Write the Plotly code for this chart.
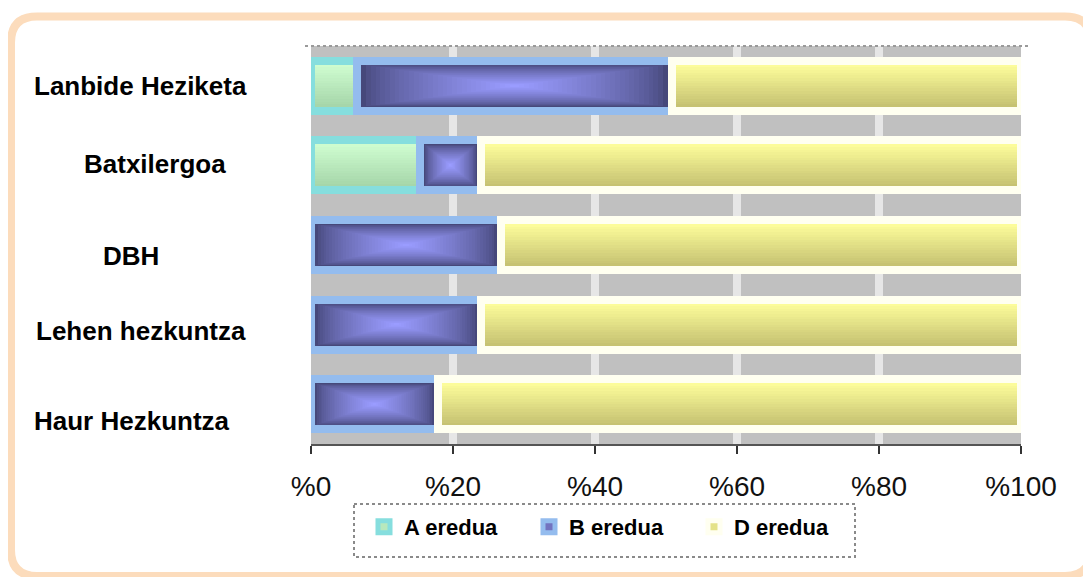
import plotly.graph_objects as go

# ---------------- data ----------------
categories = ["Lanbide Heziketa", "Batxilergoa", "DBH", "Lehen hezkuntza", "Haur Hezkuntza"]
series_names = ["A eredua", "B eredua", "D eredua"]
a_values = [6.5, 15.4, 0, 0, 0]
b_values = [44.3, 8.5, 26.8, 24.0, 17.9]
d_values = [49.2, 76.1, 73.2, 76.0, 82.1]
tick_values = [0, 20, 40, 60, 80, 100]
tick_labels = ["%0", "%20", "%40", "%60", "%80", "%100"]

# ---------------- layout geometry (page pixels) ----------------
OFF = 8                      # default body margin of the html page
W_PX, H_PX = 1091 - OFF, 577 - OFF
L, R, T, B = 311, 1021, 46, 444      # plot area in page coords
PW, PH = R - L, B - T
px_x = PW / 100.0
px_cat = PH / len(categories)
BORDER = 8
bar_w = 50 / px_cat
inner_w = (50 - BORDER) / px_cat
dx = (BORDER / 2) / px_x

def hx(c):
    c = c.lstrip("#")
    return tuple(int(c[i:i + 2], 16) for i in (0, 2, 4))

def mix(c1, c2, t):
    a, b = hx(c1), hx(c2)
    return "rgb(%d,%d,%d)" % tuple(round(a[i] + (b[i] - a[i]) * t) for i in range(3))

values = [a_values, b_values, d_values]
bases = []
acc = [0.0] * len(categories)
for vals in values:
    bases.append(list(acc))
    acc = [acc[i] + vals[i] for i in range(len(vals))]

main_fill = ["#b8e8bc", "#7373c0", "#e4e288"]
border_col = ["#86dede", "#94bcee", "#fffff0"]

fig = go.Figure()
for s in range(3):
    fig.add_trace(go.Bar(
        y=categories, x=values[s], base=bases[s], orientation="h",
        name="<b>%s</b>" % series_names[s], width=bar_w,
        marker=dict(color=main_fill[s], line=dict(color=border_col[s], width=BORDER)),
        hoverinfo="name+x",
    ))

# vertical gradient stripes for A and D
grad = {0: ("#cefccf", "#a6d6aa"), 2: ("#fcfc9a", "#c6c272")}
N = 16
for s, (ctop, cbot) in grad.items():
    lens = [max(v - 2 * dx, 0) for v in values[s]]
    bb = [b + dx for b in bases[s]]
    h = inner_w / N
    for k in range(N):
        fig.add_trace(go.Bar(
            y=categories, x=lens, base=bb, orientation="h",
            offset=-inner_w / 2 + k * h, width=h * (1.6 if k < N - 1 else 1.0),
            marker=dict(color=mix(ctop, cbot, k / (N - 1)), line=dict(width=0)),
            showlegend=False, hoverinfo="skip",
        ))

# pillow gradient for B
edge, center = "#46487a", "#9a9cff"
NB = 32
lensB = [max(v - 2 * dx, 0) for v in b_values]
for k in range(NB):
    t = k / NB
    fig.add_trace(go.Bar(
        y=categories,
        x=[l * (1 - t) for l in lensB],
        base=[bases[1][i] + dx + lensB[i] * t / 2 for i in range(len(categories))],
        orientation="h",
        offset=-inner_w / 2 * (1 - t), width=inner_w * (1 - t),
        marker=dict(color=mix(edge, center, (k / (NB - 1)) ** 0.7), line=dict(width=0)),
        showlegend=False, hoverinfo="skip",
    ))

def px2p(x, y):
    return (x - L) / PW, (B - y) / PH

# category labels (bold)
label_pos = [(140.5, 86), (154.5, 164), (130.5, 256), (141, 331), (132, 421)]
label_font = dict(family="Liberation Sans, Arial, sans-serif", size=26, color="#000000")
annotations = []
for cat, (cx, cy) in zip(categories, label_pos):
    xp, yp = px2p(cx, cy)
    annotations.append(dict(text="<b>%s</b>" % cat, x=xp, y=yp, xref="paper", yref="paper",
                            xanchor="center", yanchor="middle", showarrow=False, font=label_font))

# outer rounded frame
def rrect(x0, y0, x1, y1, r):
    X = lambda v: (v - L) / PW
    Y = lambda v: (B - v) / PH
    return ("M %f,%f L %f,%f Q %f,%f %f,%f L %f,%f Q %f,%f %f,%f L %f,%f Q %f,%f %f,%f L %f,%f Q %f,%f %f,%f Z" % (
        X(x0 + r), Y(y0), X(x1 - r), Y(y0), X(x1), Y(y0), X(x1), Y(y0 + r),
        X(x1), Y(y1 - r), X(x1), Y(y1), X(x1 - r), Y(y1),
        X(x0 + r), Y(y1), X(x0), Y(y1), X(x0), Y(y1 - r),
        X(x0), Y(y0 + r), X(x0), Y(y0), X(x0 + r), Y(y0)))

shapes = [
    dict(type="path", xref="paper", yref="paper", path=rrect(11, 16.5, 1091, 576, 26),
         line=dict(color="#fcdcbc", width=8), fillcolor="rgba(0,0,0,0)", layer="above"),
    dict(type="line", xref="paper", yref="paper", x0=px2p(305, 0)[0], x1=px2p(1028, 0)[0],
         y0=px2p(0, 46)[1], y1=px2p(0, 46)[1], line=dict(color="#9a9a9a", width=2, dash="dot")),
    dict(type="rect", xref="paper", yref="paper",
         x0=px2p(354, 0)[0], x1=px2p(855, 0)[0], y0=px2p(0, 504)[1], y1=px2p(0, 557)[1],
         line=dict(color="#8a8a8a", width=2, dash="dot"), fillcolor="white", layer="below"),
]

fig.update_layout(
    width=W_PX, height=H_PX,
    margin=dict(l=L - OFF, r=W_PX - (R - OFF), t=T - OFF, b=H_PX - (B - OFF), pad=0, autoexpand=False),
    paper_bgcolor="white", plot_bgcolor="#c0c0c0",
    barmode="overlay", bargap=0,
    showlegend=True,
    legend=dict(orientation="h", xref="container", yref="container",
                x=(364 - OFF) / W_PX, y=1 - (527 - OFF) / H_PX, xanchor="left", yanchor="middle",
                bgcolor="rgba(0,0,0,0)", borderwidth=0,
                entrywidth=120, entrywidthmode="pixels",
                font=dict(family="Liberation Sans, Arial, sans-serif", size=22, color="#000000"),
                traceorder="normal"),
    xaxis=dict(range=[0, 100], tickvals=tick_values, ticktext=tick_labels,
               showgrid=True, gridcolor="#e6e6e6", gridwidth=8, zeroline=False,
               showline=True, linecolor="#555555", linewidth=2,
               ticks="outside", ticklen=8, tickwidth=2, tickcolor="#333333",
               ticklabelstandoff=8,
               tickfont=dict(family="Liberation Sans, Arial, sans-serif", size=28, color="#111111"),
               fixedrange=True),
    yaxis=dict(range=[len(categories) - 0.5, -0.5], showticklabels=False, showgrid=False,
               zeroline=False, showline=False, fixedrange=True,
               categoryorder="array", categoryarray=categories),
    annotations=annotations,
    shapes=shapes,
)

fig.write_html("out.html")
